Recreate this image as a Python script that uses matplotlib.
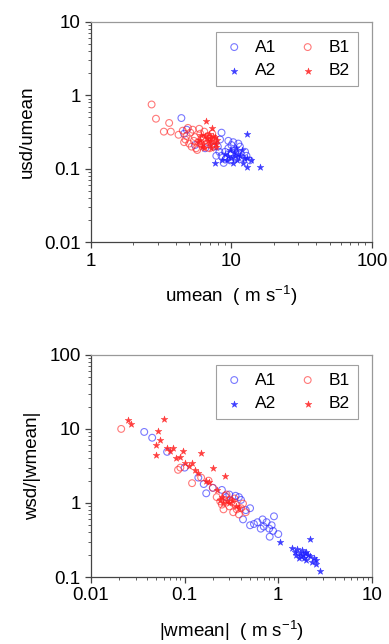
import matplotlib
matplotlib.use("Agg")
import matplotlib.pyplot as plt
from matplotlib.ticker import LogLocator, NullFormatter, FixedFormatter, FixedLocator

plt.rcParams["font.family"] = ["Liberation Sans", "DejaVu Sans"]
plt.rcParams["mathtext.fontset"] = "custom"
plt.rcParams["mathtext.rm"] = "Liberation Sans"

# ---- top panel: umean vs usd/umean ----
u_a1_x = [4.4, 4.6, 4.8, 5.5, 6.5, 7.5, 7.8, 8.0, 8.2, 8.3, 8.5, 8.5, 8.8, 9.0, 9.2, 9.5,
          9.5, 9.8, 10.0, 10.0, 10.3, 10.5, 10.8, 11.0, 11.2, 11.5, 12.0, 12.5, 12.8, 13.5]
u_a1_y = [0.49, 0.30, 0.34, 0.21, 0.19, 0.20, 0.15, 0.20, 0.17, 0.25, 0.31, 0.15, 0.12, 0.17, 0.14, 0.19,
          0.24, 0.13, 0.21, 0.16, 0.23, 0.18, 0.14, 0.16, 0.22, 0.20, 0.14, 0.17, 0.15, 0.13]
u_a2_x = [7.6, 8.6, 9.0, 9.3, 9.5, 9.8, 10.0, 10.3, 10.5, 10.6, 10.8, 11.0, 11.2, 11.5, 11.8,
          12.0, 12.2, 12.8, 12.8, 13.0, 13.8, 16.0]
u_a2_y = [0.12, 0.13, 0.16, 0.13, 0.15, 0.18, 0.14, 0.12, 0.17, 0.15, 0.19, 0.13, 0.16, 0.15, 0.18,
          0.12, 0.14, 0.30, 0.105, 0.14, 0.13, 0.105]
u_b1_x = [2.7, 2.9, 3.3, 3.6, 3.7, 4.2, 4.5, 4.6, 4.7, 4.8, 4.9, 5.0, 5.1, 5.2, 5.3, 5.4,
          5.5, 5.6, 5.7, 5.8, 5.9, 6.0, 6.1, 6.2, 6.4, 6.5, 6.8, 7.0, 7.3, 7.6]
u_b1_y = [0.75, 0.48, 0.32, 0.42, 0.32, 0.29, 0.33, 0.23, 0.25, 0.28, 0.36, 0.22, 0.31, 0.20, 0.34, 0.24,
          0.27, 0.19, 0.18, 0.23, 0.35, 0.30, 0.22, 0.26, 0.32, 0.21, 0.28, 0.19, 0.30, 0.24]
u_b2_x = [5.8, 6.0, 6.1, 6.2, 6.3, 6.4, 6.5, 6.6, 6.7, 6.8, 6.9, 7.0, 7.0, 7.1, 7.2, 7.3,
          7.4, 7.5, 7.6, 7.7, 7.8, 7.9]
u_b2_y = [0.23, 0.25, 0.29, 0.20, 0.22, 0.19, 0.28, 0.45, 0.26, 0.24, 0.30, 0.21, 0.24, 0.19, 0.26, 0.36,
          0.28, 0.23, 0.27, 0.20, 0.22, 0.25]

# ---- bottom panel: |wmean| vs wsd/|wmean| ----
w_a1_x = [0.037, 0.045, 0.065, 0.10, 0.14, 0.16, 0.17, 0.20, 0.25, 0.28, 0.30, 0.35, 0.38, 0.40,
          0.45, 0.50, 0.42, 0.50, 0.55, 0.60, 0.68, 0.70, 0.75, 0.80, 0.81, 0.85, 0.88, 0.90, 1.0, 0.65]
w_a1_y = [9.1, 7.6, 4.9, 3.0, 2.2, 1.8, 1.35, 1.6, 1.5, 1.2, 1.3, 1.25, 1.2, 1.1,
          0.80, 0.85, 0.60, 0.50, 0.52, 0.55, 0.60, 0.48, 0.55, 0.45, 0.35, 0.50, 0.42, 0.66, 0.38, 0.45]
w_a2_x = [1.05, 1.4, 1.5, 1.55, 1.6, 1.7, 1.75, 1.8, 1.85, 1.9, 2.0, 2.0, 2.1, 2.2, 2.2, 2.3,
          2.4, 2.5, 2.5, 2.8, 1.65, 1.95]
w_a2_y = [0.30, 0.25, 0.22, 0.20, 0.24, 0.21, 0.19, 0.23, 0.20, 0.18, 0.22, 0.17, 0.20, 0.33, 0.19, 0.16,
          0.18, 0.15, 0.17, 0.12, 0.18, 0.21]
w_b1_x = [0.021, 0.085, 0.09, 0.12, 0.15, 0.18, 0.20, 0.22, 0.24, 0.25, 0.26, 0.27, 0.28, 0.30,
          0.30, 0.32, 0.33, 0.34, 0.35, 0.36, 0.38, 0.40, 0.42, 0.45]
w_b1_y = [10.0, 2.8, 3.0, 1.85, 2.2, 2.0, 1.6, 1.2, 1.05, 0.95, 0.82, 1.25, 1.3, 1.1,
          0.90, 1.05, 0.75, 1.15, 0.95, 0.82, 0.70, 0.85, 0.98, 0.75]
w_b2_x = [0.025, 0.027, 0.05, 0.05, 0.052, 0.055, 0.06, 0.065, 0.07, 0.075, 0.08, 0.09, 0.095, 0.10,
          0.11, 0.12, 0.13, 0.14, 0.15, 0.17, 0.18, 0.20, 0.22, 0.24, 0.25, 0.26, 0.27, 0.28,
          0.30, 0.32, 0.35, 0.38]
w_b2_y = [13.0, 11.5, 6.0, 4.5, 9.5, 7.0, 13.5, 5.5, 5.0, 5.5, 4.0, 4.2, 5.0, 3.5,
          3.2, 3.5, 2.8, 2.5, 4.8, 2.0, 1.9, 3.0, 1.5, 1.1, 1.2, 1.0, 2.3, 1.05,
          1.0, 1.1, 0.9, 0.85]

BLUE = "#2020ff"
RED = "#ff2020"

fig = plt.figure(figsize=(3.89, 6.44), dpi=100)
ax1 = fig.add_axes([0.234, 0.624, 0.722, 0.342])
ax2 = fig.add_axes([0.234, 0.104, 0.722, 0.345])


def draw(ax, a1, a2, b1, b2):
    h_a1 = ax.scatter(*a1, s=24, facecolors="none", edgecolors=BLUE, linewidths=0.8, alpha=0.6)
    h_b1 = ax.scatter(*b1, s=24, facecolors="none", edgecolors=RED, linewidths=0.8, alpha=0.6)
    h_a2 = ax.scatter(*a2, s=26, marker="*", color=BLUE, linewidths=0.3, alpha=0.85)
    h_b2 = ax.scatter(*b2, s=26, marker="*", color=RED, linewidths=0.3, alpha=0.85)
    leg = ax.legend([h_a1, h_a2, h_b1, h_b2], ["A1", "A2", "B1", "B2"], ncol=2,
                    loc="upper right", fontsize=12.5, frameon=True, fancybox=False,
                    edgecolor="#888888", handletextpad=0.6, columnspacing=1.2,
                    handlelength=1.2, borderpad=0.45, labelspacing=0.5,
                    bbox_to_anchor=(0.98, 0.995))
    leg.get_frame().set_linewidth(0.8)
    ax.set_xscale("log")
    ax.set_yscale("log")
    for s in ["top", "right"]:
        ax.spines[s].set_color("#999999")
    for s in ["left", "bottom"]:
        ax.spines[s].set_color("#444444")
    for s in ax.spines.values():
        s.set_linewidth(0.9)
    ax.tick_params(which="both", direction="out", top=False, right=False, colors="#444444",
                   labelcolor="black", labelsize=13.5)
    ax.tick_params(which="major", length=4, width=0.9)
    ax.tick_params(which="minor", length=2, width=0.6)
    ax.xaxis.set_minor_locator(LogLocator(base=10, subs=range(2, 10)))
    ax.yaxis.set_minor_locator(LogLocator(base=10, subs=range(2, 10)))
    ax.xaxis.set_minor_formatter(NullFormatter())
    ax.yaxis.set_minor_formatter(NullFormatter())


draw(ax1, (u_a1_x, u_a1_y), (u_a2_x, u_a2_y), (u_b1_x, u_b1_y), (u_b2_x, u_b2_y))
ax1.set_xlim(1, 100)
ax1.set_ylim(0.01, 10)
ax1.xaxis.set_major_locator(FixedLocator([1, 10, 100]))
ax1.xaxis.set_major_formatter(FixedFormatter(["1", "10", "100"]))
ax1.yaxis.set_major_locator(FixedLocator([0.01, 0.1, 1, 10]))
ax1.yaxis.set_major_formatter(FixedFormatter(["0.01", "0.1", "1", "10"]))
ax1.set_xlabel("umean  ( m s$^{-1}$)", fontsize=13.5, labelpad=10)
ax1.set_ylabel("usd/umean", fontsize=13.5, labelpad=6)

draw(ax2, (w_a1_x, w_a1_y), (w_a2_x, w_a2_y), (w_b1_x, w_b1_y), (w_b2_x, w_b2_y))
ax2.set_xlim(0.01, 10)
ax2.set_ylim(0.1, 100)
ax2.xaxis.set_major_locator(FixedLocator([0.01, 0.1, 1, 10]))
ax2.xaxis.set_major_formatter(FixedFormatter(["0.01", "0.1", "1", "10"]))
ax2.yaxis.set_major_locator(FixedLocator([0.1, 1, 10, 100]))
ax2.yaxis.set_major_formatter(FixedFormatter(["0.1", "1", "10", "100"]))
ax2.set_xlabel("|wmean|  ( m s$^{-1}$)", fontsize=13.5, labelpad=10)
ax2.set_ylabel("wsd/|wmean|", fontsize=13.5, labelpad=6)

fig.savefig("out.png", dpi=100)
